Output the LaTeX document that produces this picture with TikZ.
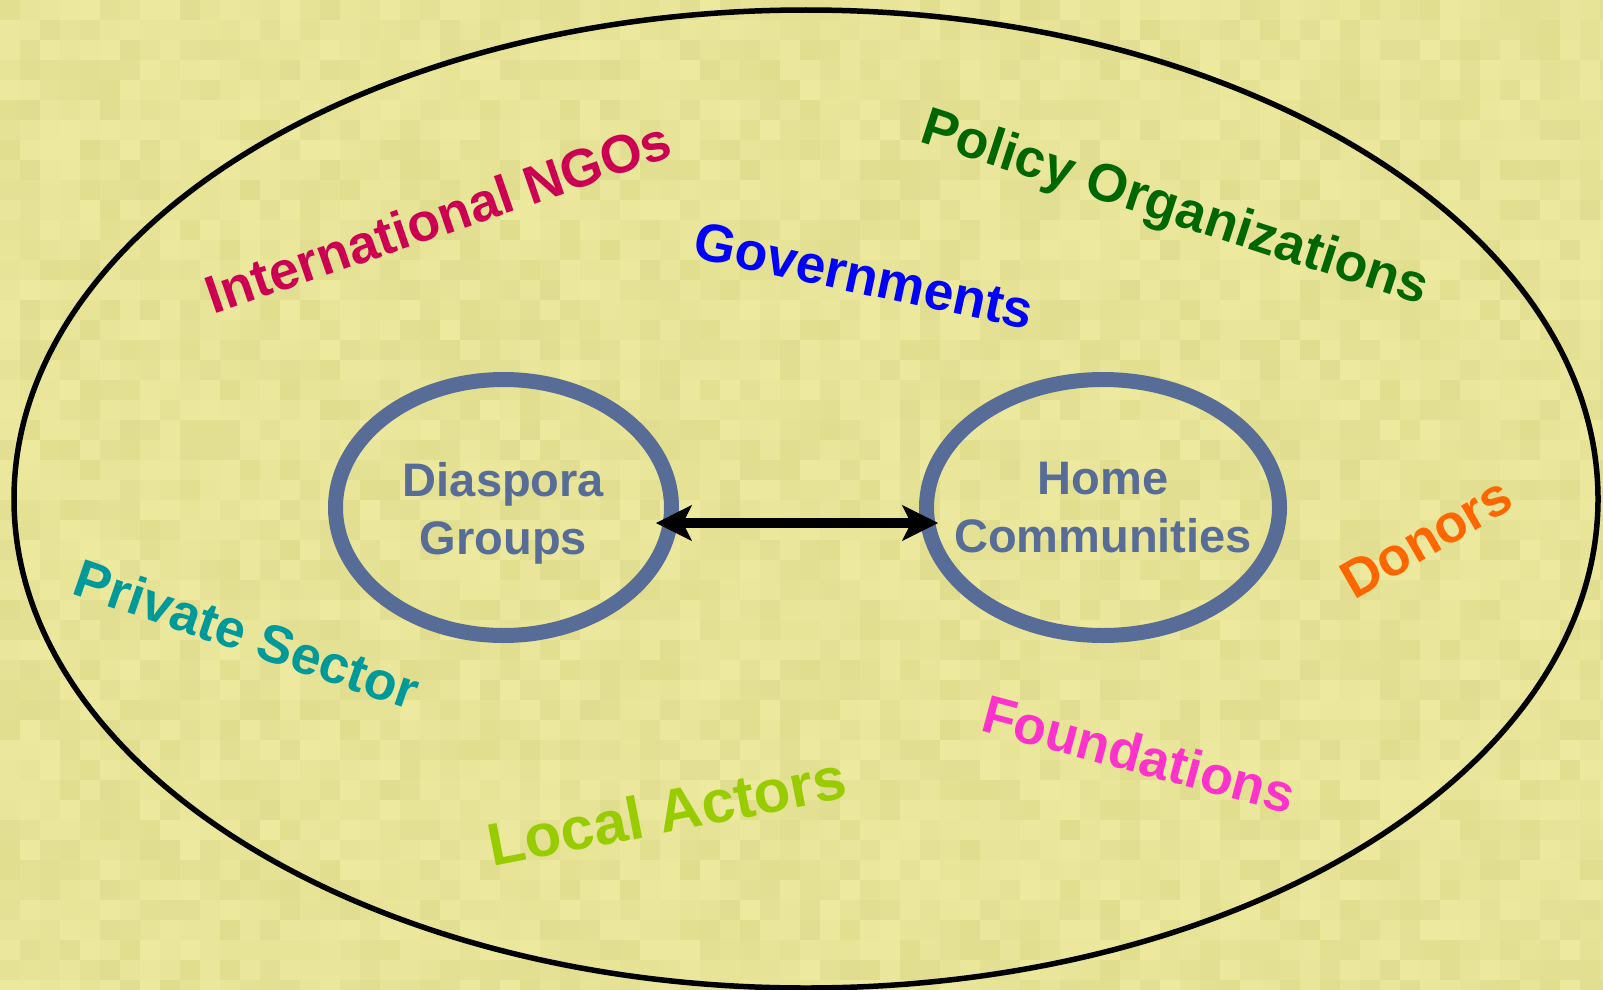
\documentclass[tikz,border=0pt]{standalone}
\usepackage{fontspec}
\setmainfont{Liberation Sans}
\usetikzlibrary{shapes.geometric,arrows.meta}
\definecolor{bgyellow}{RGB}{232,229,152}
\definecolor{bglight}{RGB}{237,234,160}
\definecolor{bgdark}{RGB}{225,221,143}
\definecolor{slate}{RGB}{87,108,151}
\definecolor{ngocol}{RGB}{204,0,82}
\definecolor{govcol}{RGB}{0,0,255}
\definecolor{polcol}{RGB}{0,102,0}
\definecolor{doncol}{RGB}{255,102,0}
\definecolor{privcol}{RGB}{0,153,153}
\definecolor{foundcol}{RGB}{255,51,204}
\definecolor{localcol}{RGB}{153,204,0}
\begin{document}
\begin{tikzpicture}[x=1pt,y=-1pt,
  lbl/.style={font=\fontsize{53.5}{60}\selectfont\bfseries, text height=38.3pt, text depth=0pt, inner sep=0pt},
  biglbl/.style={font=\fontsize{60}{66}\selectfont\bfseries, text height=43pt, text depth=0pt, inner sep=0pt},
  ring/.style={ellipse, draw=slate, line width=15pt, inner sep=0pt, outer sep=0pt},
  ringtext/.style={text=slate, align=center, inner sep=0pt, font=\fontsize{47}{58}\selectfont\bfseries},
  link/.style={line width=10pt, {Stealth[length=36pt,width=36pt,inset=9pt,line width=1pt]}-{Stealth[length=36pt,width=36pt,inset=9pt,line width=1pt]}}]
\useasboundingbox (0,0) rectangle (1603,990);
\begin{scope}
\clip (0,0) rectangle (1603,990);
\fill[bgyellow] (0,0) rectangle (1603,990);
\pgfmathsetseed{7}
\foreach \i in {0,...,80} {
  \foreach \j in {0,...,49} {
    \pgfmathsetmacro\m{int(rnd*100)}
    \fill[bgdark!\m!bglight] (\i*20,\j*20) rectangle ++(20,20);
  }
}
\end{scope}
% outer ellipse
\node[ellipse, draw=black, line width=5.5pt, inner sep=0pt, outer sep=0pt,
      minimum width=1584pt, minimum height=978pt] (world) at (806,499) {};
% inner ellipses
\node[ring, minimum width=336pt, minimum height=256pt] (dg) at (503.5,507.5) {};
\node[ring, minimum width=353pt, minimum height=256pt] (hc) at (1103,507.5) {};
\node[ringtext, yshift=-5.5pt] (dgtext) at (dg.center) {Diaspora\\Groups};
\node[ringtext, yshift=-0.5pt] (hctext) at (hc.center) {Home\\Communities};
% arrow
\draw[link, shorten <=-15.5pt, shorten >=-11.5pt] ([yshift=-15.5pt]dg.east) -- ([yshift=-15.5pt]hc.west);
% labels
\node[lbl, text=ngocol, rotate=19] (ngo) at (438,217) {International NGOs};
\node[lbl, text=govcol, rotate=-12] (gov) at (864,275) {Governments};
\node[lbl, text=polcol, rotate=-18] (pol) at (1176,205) {Policy Organizations};
\node[lbl, text=doncol, rotate=30] (don) at (1426,537) {Donors};
\node[lbl, text=privcol, rotate=-19] (priv) at (247,634) {Private Sector};
\node[lbl, text=foundcol, rotate=-15] (found) at (1139,754) {Foundations};
\node[biglbl, text=localcol, rotate=11] (local) at (667,811) {Local Actors};
\end{tikzpicture}
\end{document}
